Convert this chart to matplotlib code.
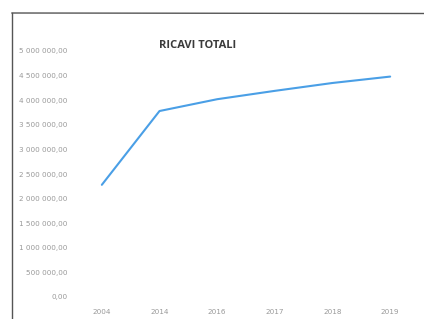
import matplotlib
matplotlib.use("Agg")
import matplotlib.pyplot as plt
from matplotlib.lines import Line2D

years = ["2004", "2014", "2016", "2017", "2018", "2019"]
ricavi = [2280000, 3780000, 4020000, 4190000, 4350000, 4480000]
yticks = [0, 500000, 1000000, 1500000, 2000000, 2500000, 3000000, 3500000, 4000000, 4500000, 5000000]

def fmt(v):
    if v == 0:
        return "0,00"
    s = f"{v:,.0f}".replace(",", " ")
    return s + ",00"

W, H = 424, 319
fig = plt.figure(figsize=(W / 100, H / 100), dpi=100)
fig.patch.set_facecolor("white")

ax = fig.add_axes([73 / W, 1 - 297 / H, (419 - 73) / W, (297 - 51) / H])
x = list(range(len(years)))
ax.plot(x, ricavi, color="#4a9fe6", linewidth=1.5, solid_capstyle="round")
ax.set_xlim(-0.5, len(years) - 0.5)
ax.set_ylim(0, 5000000)
ax.set_yticks(yticks)
ax.set_yticklabels([fmt(v) for v in yticks])
ax.set_xticks(x)
ax.set_xticklabels(years)
for s in ax.spines.values():
    s.set_visible(False)
ax.tick_params(axis="both", length=0, labelsize=5.2, labelcolor="#999999")
ax.tick_params(axis="y", pad=4)
ax.tick_params(axis="x", pad=9)
ax.set_facecolor("none")

fig.text(198 / W, 1 - 46 / H, "RICAVI TOTALI", ha="center", va="center",
         fontsize=8, fontweight="bold", color="#3a3a3a", family="Open Sans")

# scanned frame
fig.add_artist(Line2D([12 / W, 1.0], [1 - 13 / H, 1 - 13.5 / H], transform=fig.transFigure,
                      color="#555555", linewidth=1.0))
fig.add_artist(Line2D([12 / W, 12 / W], [1 - 13 / H, 0.0], transform=fig.transFigure,
                      color="#555555", linewidth=1.0))

fig.savefig("out.png", dpi=100)
